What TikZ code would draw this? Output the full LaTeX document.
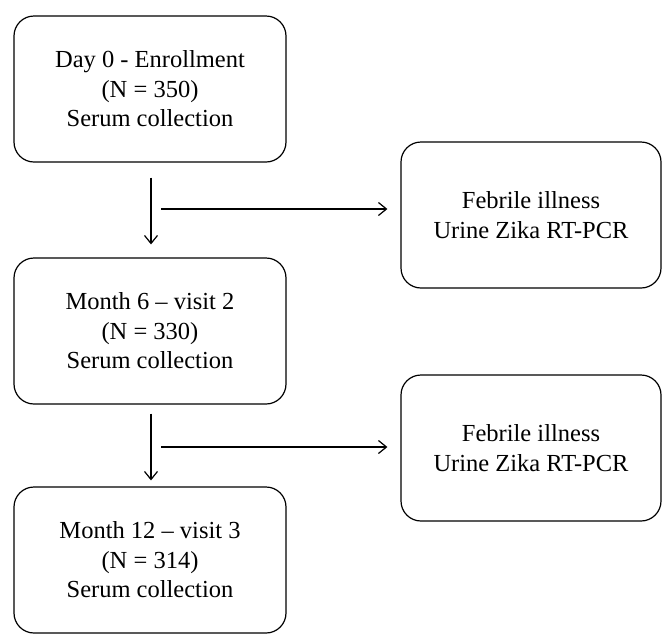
\documentclass[tikz,border=0pt]{standalone}
\usepackage{fontspec}
\setmainfont{Liberation Serif}
\usetikzlibrary{arrows.meta}

\begin{document}
\begin{tikzpicture}[
                > = {Straight Barb[length = 8pt, width = 13pt]}, % arrow head style
                x = 1pt, y = -1pt, % one unit per pixel, y downwards
                line width = 1.2pt % line style
            ]

            \tikzstyle{visit}=[draw = black, rounded corners = 20pt,
            minimum width = 272pt, minimum height = 146pt, align = center,
            font = \fontsize{24.5}{29.5}\selectfont]
            \tikzstyle{fever}=[visit, minimum width = 260pt]

            \useasboundingbox (0,0) rectangle (662,633);

            \node (d0) [visit] at (150,89) {Day 0 - Enrollment\\(N = 350)\\Serum collection};
            \node (m6) [visit] at (150,331) {Month 6 -- visit 2\\(N = 330)\\Serum collection};
            \node (m12) [visit] at (150,560) {Month 12 -- visit 3\\(N = 314)\\Serum collection};
            \node (f1) [fever] at (531,215) {Febrile illness\\Urine Zika RT-PCR};
            \node (f2) [fever] at (531,448) {Febrile illness\\Urine Zika RT-PCR};

            \coordinate (b1) at (161,209); \coordinate (b2) at (161,447);

            \draw[->, shorten < = 15pt, shorten > = 13pt] ([xshift=1pt]d0.south) -- ([xshift=1pt]m6.north);
            \draw[->, shorten < = 9pt, shorten > = 6pt] ([xshift=1pt]m6.south) -- ([xshift=1pt]m12.north);
            \draw[->, shorten > = 13pt] (b1) -- (b1 -| f1.west);
            \draw[->, shorten > = 13pt] (b2) -- (b2 -| f2.west);

        \end{tikzpicture}
\end{document}
